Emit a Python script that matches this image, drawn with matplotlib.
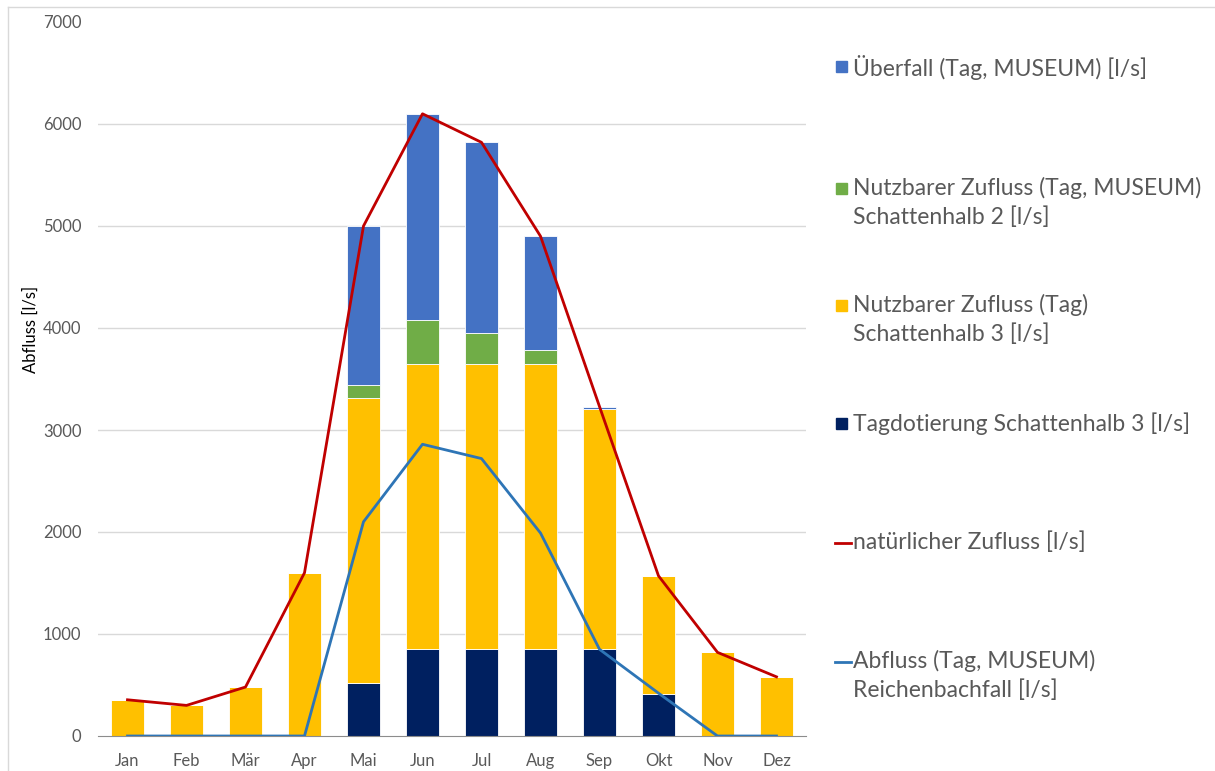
import numpy as np
import matplotlib.pyplot as plt
from matplotlib.patches import Rectangle
from matplotlib.lines import Line2D

plt.rcParams['font.family'] = ['Lato', 'DejaVu Sans']

monate = ['Jan', 'Feb', 'Mär', 'Apr', 'Mai', 'Jun', 'Jul', 'Aug', 'Sep', 'Okt', 'Nov', 'Dez']

# Abflüsse in l/s
tagdotierung_sh3 = [0, 0, 0, 0, 520, 850, 850, 850, 850, 410, 0, 0]
nutzbar_sh3 = [355, 300, 480, 1600, 2790, 2800, 2800, 2800, 2360, 1160, 820, 580]
nutzbar_sh2 = [0, 0, 0, 0, 130, 430, 300, 130, 0, 0, 0, 0]
ueberfall = [0, 0, 0, 0, 1560, 2020, 1870, 1120, 20, 0, 0, 0]
natuerlich = [355, 300, 480, 1600, 5000, 6100, 5820, 4900, 3230, 1570, 820, 580]
reichenbachfall = [0, 0, 0, 0, 2100, 2860, 2720, 1990, 850, 420, 0, 0]

farben = {
    'navy': '#002060',
    'gelb': '#FFC000',
    'gruen': '#70AD47',
    'blau': '#4472C4',
    'rot': '#C00000',
    'linie': '#2E75B6',
}

fig = plt.figure(figsize=(12.15, 7.71), dpi=100)
ax = fig.add_axes([98 / 1215, 1 - 736 / 771, 708 / 1215, 714 / 771])

x = np.arange(len(monate))
b = 0.575
unten = np.zeros(len(monate))
for werte, farbe in [(tagdotierung_sh3, farben['navy']), (nutzbar_sh3, farben['gelb']),
                     (nutzbar_sh2, farben['gruen']), (ueberfall, farben['blau'])]:
    ax.bar(x, werte, b, bottom=unten, color=farbe, edgecolor='#ffffff',
           linewidth=0.6, zorder=2)
    unten += np.array(werte)

ax.plot(x, natuerlich, color=farben['rot'], lw=2, zorder=4)
ax.plot(x, reichenbachfall, color=farben['linie'], lw=2, zorder=4)

ax.set_xlim(-0.5, 11.5)
ax.set_ylim(0, 7000)
ax.set_yticks(np.arange(0, 7001, 1000))
ax.set_xticks(x)
ax.set_xticklabels(monate)
for y in range(1000, 7000, 1000):
    ax.axhline(y, color='#D9D9D9', lw=1, zorder=0)
ax.tick_params(length=0, labelsize=12, colors='#595959')
ax.tick_params(axis='y', pad=12)
ax.tick_params(axis='x', pad=12)
for s in ['top', 'right', 'left']:
    ax.spines[s].set_visible(False)
ax.spines['bottom'].set_color('#8C8C8C')
ax.spines['bottom'].set_zorder(3)

fig.text(31 / 1215, 1 - 329 / 771, 'Abfluss [l/s]', rotation=90, fontsize=12,
         color='black', ha='center', va='center')

# Legende
eintraege = [
    ('patch', farben['blau'], 'Überfall (Tag, MUSEUM) [l/s]', 67),
    ('patch', farben['gruen'], 'Nutzbarer Zufluss (Tag, MUSEUM)\nSchattenhalb 2 [l/s]', 189),
    ('patch', farben['gelb'], 'Nutzbarer Zufluss (Tag)\nSchattenhalb 3 [l/s]', 306),
    ('patch', farben['navy'], 'Tagdotierung Schattenhalb 3 [l/s]', 424),
    ('line', farben['rot'], 'natürlicher Zufluss [l/s]', 543),
    ('line', farben['linie'], 'Abfluss (Tag, MUSEUM)\nReichenbachfall [l/s]', 662),
]
W, H = 1215, 771
for art, farbe, text, yp in eintraege:
    if art == 'patch':
        fig.patches.append(Rectangle((836 / W, 1 - (yp + 5) / H), 11 / W, 11 / H,
                                     transform=fig.transFigure, color=farbe))
    else:
        fig.lines.append(Line2D([835 / W, 851 / W], [1 - yp / H, 1 - yp / H],
                                transform=fig.transFigure, color=farbe, lw=2))
    fig.text(853 / W, 1 - (yp - 12) / H, text, fontsize=16.5, color='#595959',
             ha='left', va='top', linespacing=1.4)

# Rahmen
fig.lines.append(Line2D([8 / W, 8 / W], [0, 1 - 7 / H], transform=fig.transFigure,
                        color='#D9D9D9', lw=1))
fig.lines.append(Line2D([8 / W, 1], [1 - 7 / H, 1 - 7 / H], transform=fig.transFigure,
                        color='#D9D9D9', lw=1))

fig.savefig('out.png', dpi=100, facecolor='white')
